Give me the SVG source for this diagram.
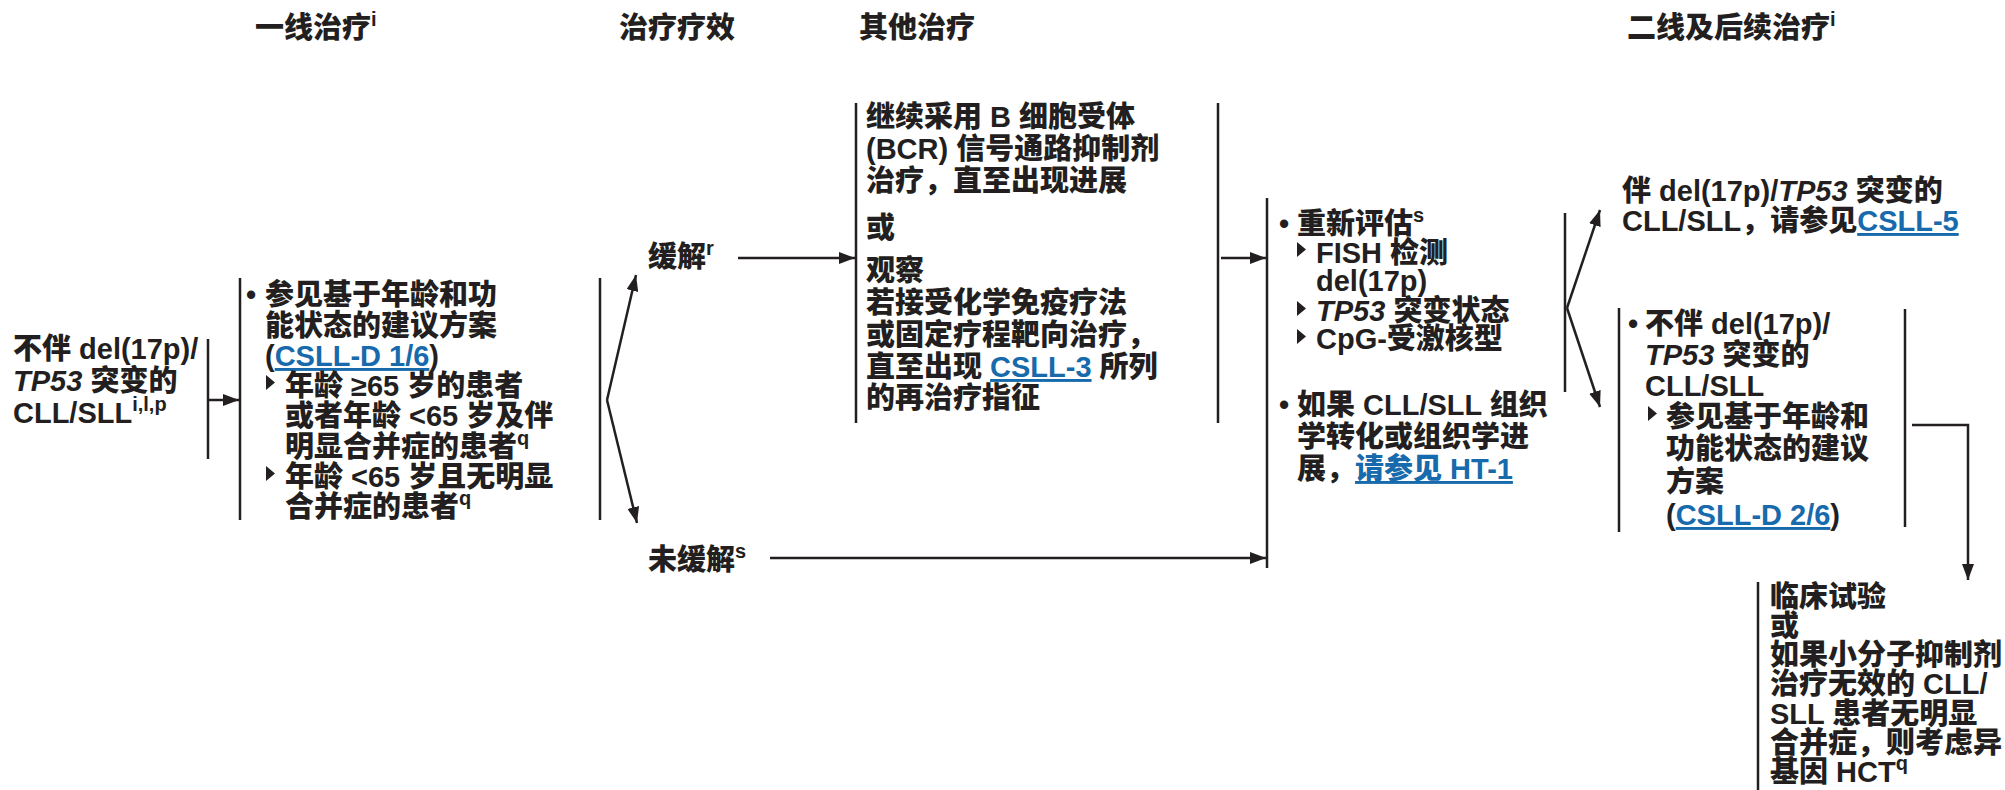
<svg xmlns="http://www.w3.org/2000/svg" width="2005" height="790" viewBox="0 0 2005 790">
<defs>
<style>
text{font-family:"Liberation Sans","Noto Sans CJK SC",sans-serif;font-weight:900;font-size:29px;fill:#231f20}
.sup{font-size:20px}
.it{font-style:italic}
.lk{fill:#176aab;text-decoration:underline}
.br{stroke:#231f20;stroke-width:2.5;fill:none}
.cn{stroke:#231f20;stroke-width:2.5;fill:none;marker-end:url(#ah)}
.tri{fill:#231f20}
</style>
<marker id="ah" viewBox="0 0 16 12" refX="16" refY="6" markerWidth="16" markerHeight="12" markerUnits="userSpaceOnUse" orient="auto"><path d="M0,0 L16,6 L0,12 z" fill="#231f20"/></marker>
</defs>
<rect width="2005" height="790" fill="#fff"/>
<g id="headers">
<text x="255" y="38">一线治疗<tspan class="sup" dy="-12">i</tspan></text>
<text x="619" y="38">治疗疗效</text>
<text x="859" y="38">其他治疗</text>
<text x="1627" y="38">二线及后续治疗<tspan class="sup" dy="-12">i</tspan></text>
</g>
<g id="node-no-del17p">
<text x="13" y="359">不伴 del(17p)/</text>
<text x="13" y="391"><tspan class="it">TP53</tspan> 突变的</text>
<text x="13" y="423">CLL/SLL<tspan class="sup" dy="-12">i,l,p</tspan></text>
<line class="br" x1="208" y1="339" x2="208" y2="459"/>
</g>
<g id="node-first-line">
<line class="br" x1="240" y1="278" x2="240" y2="520"/>
<line class="br" x1="600" y1="278" x2="600" y2="520"/>
<text x="246" y="305">•</text>
<text x="265" y="305">参见基于年龄和功</text>
<text x="265" y="336">能状态的建议方案</text>
<text x="265" y="366">(<tspan class="lk">CSLL-D 1/6</tspan>)</text>
<polygon class="tri" points="266,375 275,382.5 266,390"/>
<text x="285" y="396">年龄 ≥65 岁的患者</text>
<text x="285" y="426">或者年龄 &lt;65 岁及伴</text>
<text x="285" y="457">明显合并症的患者<tspan class="sup" dy="-12">q</tspan></text>
<polygon class="tri" points="266,466 275,473.5 266,481"/>
<text x="285" y="487">年龄 &lt;65 岁且无明显</text>
<text x="285" y="517">合并症的患者<tspan class="sup" dy="-12">q</tspan></text>
</g>
<g id="node-response">
<text x="648" y="267">缓解<tspan class="sup" dy="-12">r</tspan></text>
</g>
<g id="node-no-response">
<text x="648" y="570">未缓解<tspan class="sup" dy="-12">s</tspan></text>
</g>
<g id="node-other-therapy">
<line class="br" x1="856" y1="103" x2="856" y2="423"/>
<line class="br" x1="1218" y1="103" x2="1218" y2="423"/>
<text x="866" y="127">继续采用 B 细胞受体</text>
<text x="866" y="159">(BCR) 信号通路抑制剂</text>
<text x="866" y="191">治疗，直至出现进展</text>
<text x="866" y="238">或</text>
<text x="866" y="281">观察</text>
<text x="866" y="313">若接受化学免疫疗法</text>
<text x="866" y="345">或固定疗程靶向治疗，</text>
<text x="866" y="377">直至出现 <tspan class="lk">CSLL-3</tspan> 所列</text>
<text x="866" y="408">的再治疗指征</text>
</g>
<g id="node-reassess">
<line class="br" x1="1267" y1="198" x2="1267" y2="568"/>
<text x="1279" y="234">•</text>
<text x="1297" y="234">重新评估<tspan class="sup" dy="-12">s</tspan></text>
<polygon class="tri" points="1297,242 1306,249.5 1297,257"/>
<text x="1316" y="263">FISH 检测</text>
<text x="1316" y="291">del(17p)</text>
<polygon class="tri" points="1297,301 1306,308.5 1297,316"/>
<text x="1316" y="321"><tspan class="it">TP53</tspan> 突变状态</text>
<polygon class="tri" points="1297,329 1306,336.5 1297,344"/>
<text x="1316" y="349">CpG-受激核型</text>
<text x="1279" y="415">•</text>
<text x="1297" y="415">如果 CLL/SLL 组织</text>
<text x="1297" y="447">学转化或组织学进</text>
<text x="1297" y="479">展，<tspan class="lk">请参见 HT-1</tspan></text>
<line class="br" x1="1565" y1="213" x2="1565" y2="392"/>
</g>
<g id="node-with-del17p">
<text x="1622" y="201">伴 del(17p)/<tspan class="it">TP53</tspan> 突变的</text>
<text x="1622" y="231">CLL/SLL，请参见<tspan class="lk">CSLL-5</tspan></text>
</g>
<g id="node-without-del17p">
<line class="br" x1="1619" y1="308" x2="1619" y2="532"/>
<line class="br" x1="1905" y1="309" x2="1905" y2="527"/>
<text x="1628" y="334">•</text>
<text x="1645" y="334">不伴 del(17p)/</text>
<text x="1645" y="365"><tspan class="it">TP53</tspan> 突变的</text>
<text x="1645" y="396">CLL/SLL</text>
<polygon class="tri" points="1648,406 1657,413.5 1648,421"/>
<text x="1666" y="427">参见基于年龄和</text>
<text x="1666" y="459">功能状态的建议</text>
<text x="1666" y="492">方案</text>
<text x="1666" y="525">(<tspan class="lk">CSLL-D 2/6</tspan>)</text>
</g>
<g id="node-clinical-trial">
<line class="br" x1="1758" y1="582" x2="1758" y2="790"/>
<text x="1770" y="607">临床试验</text>
<text x="1770" y="636">或</text>
<text x="1770" y="665">如果小分子抑制剂</text>
<text x="1770" y="694">治疗无效的 CLL/</text>
<text x="1770" y="724">SLL 患者无明显</text>
<text x="1770" y="753">合并症，则考虑异</text>
<text x="1770" y="782">基因 HCT<tspan class="sup" dy="-12">q</tspan></text>
</g>
<g id="connectors">
<line class="cn" x1="208" y1="400" x2="239" y2="400"/>
<line class="cn" x1="607" y1="400" x2="636" y2="275"/>
<line class="cn" x1="607" y1="400" x2="637" y2="523"/>
<line class="cn" x1="738" y1="258" x2="855" y2="258"/>
<line class="cn" x1="770" y1="558" x2="1266" y2="558"/>
<line class="cn" x1="1221" y1="258" x2="1266" y2="258"/>
<line class="cn" x1="1567" y1="308" x2="1600" y2="210"/>
<line class="cn" x1="1567" y1="308" x2="1600" y2="407"/>
<polyline class="cn" points="1912,425 1968,425 1968,580"/>
</g>
</svg>
